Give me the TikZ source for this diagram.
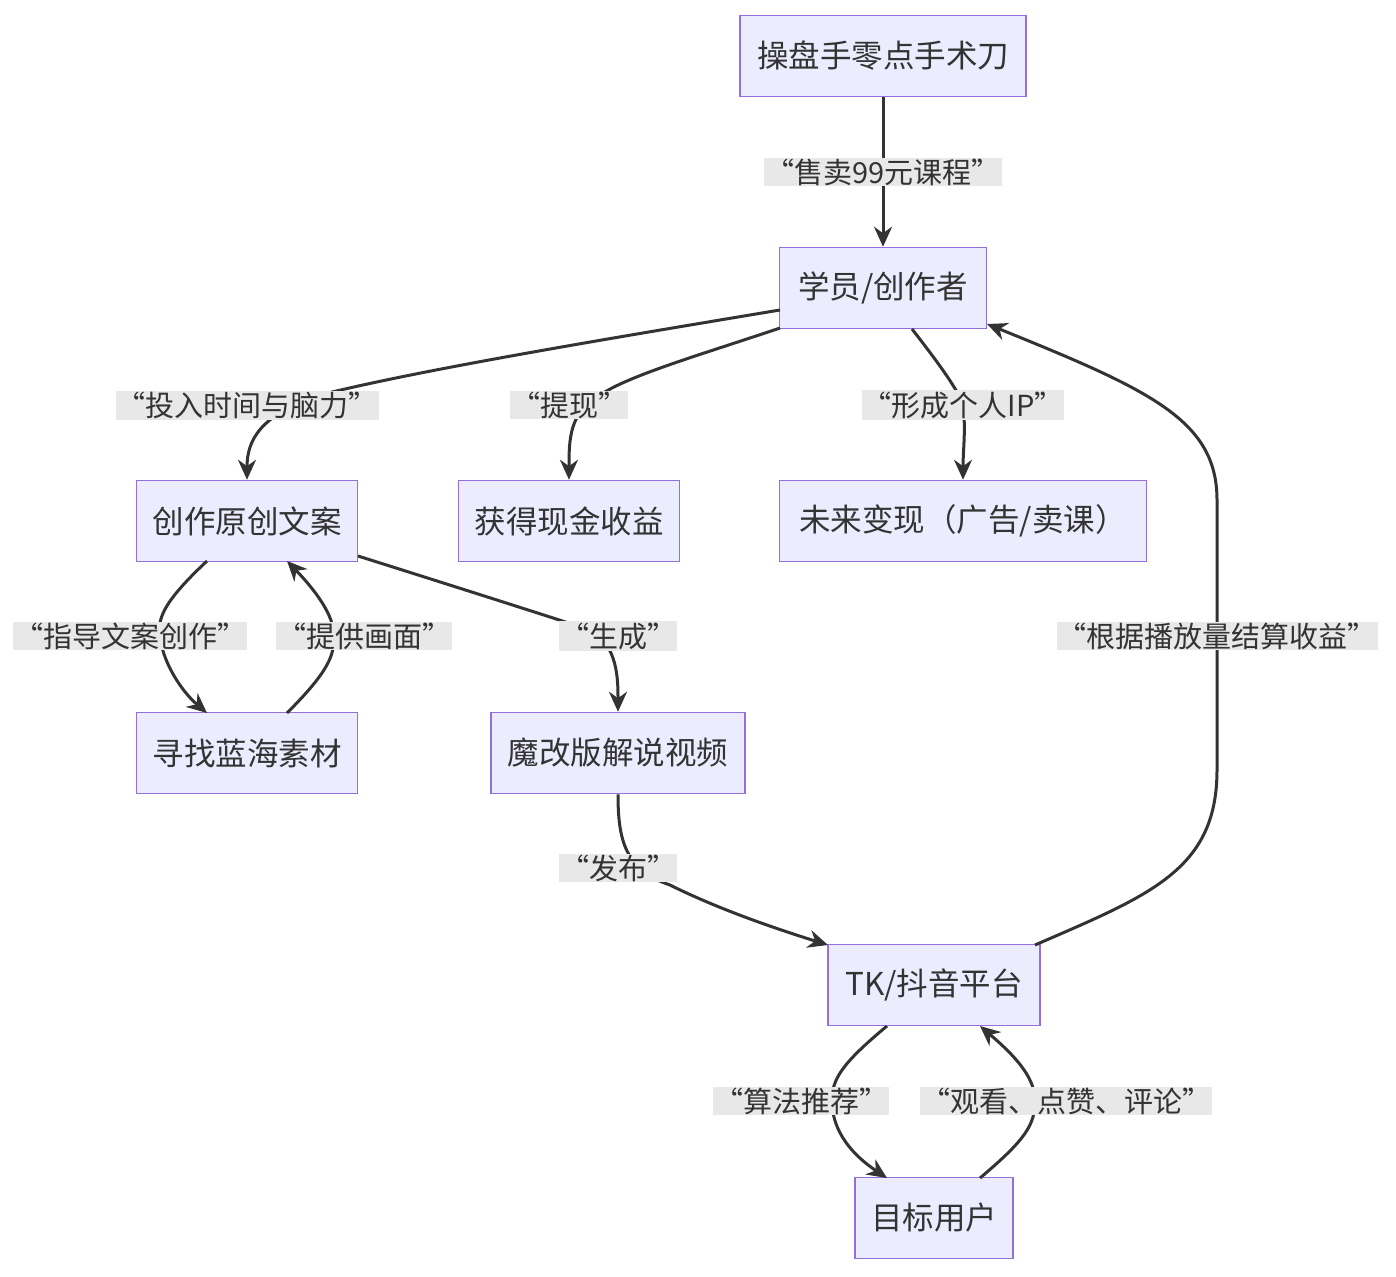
\documentclass[tikz,border=0pt]{standalone}
\usepackage{fontspec}
\setmainfont{Noto Sans CJK SC}
\usetikzlibrary{arrows.meta}
\definecolor{nfill}{HTML}{ECECFF}
\definecolor{nline}{HTML}{9370DB}
\definecolor{eline}{HTML}{333333}
\definecolor{lbg}{HTML}{E8E8E8}
\begin{document}
\begin{tikzpicture}[x=1pt,y=-1pt,
  box/.style={draw=nline,fill=nfill,line width=1.5pt,minimum height=81pt,inner xsep=0pt,font=\fontsize{31.5}{34}\selectfont,text=eline},
  lab/.style={fill=lbg,inner sep=1pt,font=\fontsize{29}{32}\selectfont,text=eline},
  e/.style={draw=eline,line width=3pt,-{Stealth[length=20pt,width=18pt]}}]
\useasboundingbox (0,0) rectangle (1396,1276);
\node[box,minimum width=286pt] (A) at (883,56) {操盘手零点手术刀};
\node[box,minimum width=207pt] (B) at (883,288) {学员/创作者};
\node[box,minimum width=221pt] (C) at (247,521) {创作原创文案};
\node[box,minimum width=221pt] (D) at (569,521) {获得现金收益};
\node[box,minimum width=367pt] (E) at (963,521) {未来变现（广告/卖课）};
\node[box,minimum width=221pt] (F) at (247,753) {寻找蓝海素材};
\node[box,minimum width=254pt] (G) at (618,753) {魔改版解说视频};
\node[box,minimum width=212pt] (H) at (934,985) {TK/抖音平台};
\node[box,minimum width=158pt] (I) at (934,1218) {目标用户};
\coordinate (la) at (883,172);
\coordinate (lb) at (247,405);
\coordinate (ld) at (569,405);
\coordinate (le) at (963,405);
\coordinate (lf) at (130,636);
\coordinate (lc) at (364,636);
\coordinate (lg) at (618,636);
\coordinate (lh) at (618,868);
\coordinate (lr) at (1217,636);
\coordinate (li) at (801,1101);
\coordinate (lu) at (1066,1101);
\coordinate (b1) at (780,310);
\coordinate (b2) at (780,328);
\draw[e] (A) -- (B);
\draw[e] (b1) .. controls (600,340) and (420,370) .. (320,395) .. controls (260,415) and (247,440) .. (C.north);
\draw[e] (b2) .. controls (700,355) and (630,375) .. (600,395) .. controls (569,412) and (569,440) .. (D.north);
\draw[e] (912,329) .. controls (940,365) and (958,390) .. (le) .. controls (966,430) and (963,450) .. (E.north);
\draw[e] (207,561) .. controls (160,605) and (158,620) .. (160,636) .. controls (162,660) and (180,690) .. (207,713);
\draw[e] (287,713) .. controls (330,670) and (334,655) .. (334,636) .. controls (334,615) and (315,590) .. (287,561);
\draw[e] (358,556) .. controls (450,585) and (560,620) .. (590,630) .. controls (618,645) and (618,680) .. (G.north);
\draw[e] (G.south) .. controls (618,840) and (625,870) .. (670,885) .. controls (720,910) and (780,930) .. (828,945);
\draw[e] (1035,945) .. controls (1150,895) and (1217,870) .. (1217,770) -- (1217,500) .. controls (1217,420) and (1150,390) .. (987,324);
\draw[e] (887,1026) .. controls (840,1065) and (832,1080) .. (832,1101) .. controls (832,1125) and (845,1150) .. (887,1178);
\draw[e] (980,1178) .. controls (1025,1140) and (1035,1125) .. (1035,1101) .. controls (1035,1080) and (1020,1060) .. (980,1026);
\node[lab] at (la) {“售卖99元课程”};
\node[lab] at (lb) {“投入时间与脑力”};
\node[lab] at (ld) {“提现”};
\node[lab] at (le) {“形成个人IP”};
\node[lab] at (lf) {“指导文案创作”};
\node[lab] at (lc) {“提供画面”};
\node[lab] at (lg) {“生成”};
\node[lab] at (lh) {“发布”};
\node[lab] at (lr) {“根据播放量结算收益”};
\node[lab] at (li) {“算法推荐”};
\node[lab] at (lu) {“观看、点赞、评论”};
\end{tikzpicture}
\end{document}
